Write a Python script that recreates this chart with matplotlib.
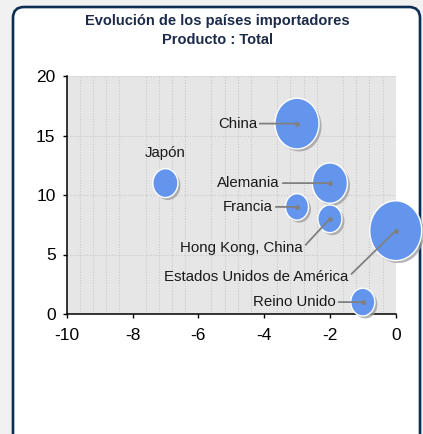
import numpy as np
import matplotlib
matplotlib.use("Agg")
import matplotlib.pyplot as plt
from matplotlib import transforms
from matplotlib.patches import FancyBboxPatch
from matplotlib.markers import MarkerStyle

# ---------------- data ----------------
countries = ["China", "Japón", "Alemania", "Francia", "Hong Kong, China",
             "Estados Unidos de América", "Reino Unido"]
x_vals = [-3, -7, -2, -3, -2, 0, -1]
y_vals = [16, 11, 11, 9, 8, 7, 1]
bubble_vals = [19.4, 6.3, 12.3, 5.3, 5.8, 27.0, 5.8]
x_ticks = [-10, -8, -6, -4, -2, 0]
y_ticks = [0, 5, 10, 15, 20]
title_line1 = "Evolución de los países importadores"
title_line2 = "Producto : Total"

# label offsets (pixels) relative to bubble centre
label_offsets = {
    "China": (-40, 0, "right"),
    "Japón": (0, 30, "center"),
    "Alemania": (-50, 0, "right"),
    "Francia": (-24, 0, "right"),
    "Hong Kong, China": (-27, -29, "right"),
    "Estados Unidos de América": (-47, -46, "right"),
    "Reino Unido": (-27, 0, "right"),
}

DPI = 100
W, H = 423, 434
fig = plt.figure(figsize=(W / DPI, H / DPI), dpi=DPI)
fig.patch.set_facecolor("#f1f1f1")

font = ["Liberation Sans", "DejaVu Sans"]

# rounded white panel
panel = FancyBboxPatch((13, -30), 407, 427 + 30,
                       boxstyle="round,pad=0,rounding_size=11",
                       linewidth=1.9, edgecolor="#0d2d55", facecolor="white",
                       transform=transforms.IdentityTransform(), zorder=-10)
fig.patches.append(panel)

ax = fig.add_axes([66.7 / W, (H - 314) / H, (395.7 - 66.7) / W, (314 - 76) / H])
ax.set_zorder(1)
ax.set_facecolor("#e6e6e6")
ax.set_xlim(-10, 0)
ax.set_ylim(0, 20)
ax.set_xticks(x_ticks)
ax.set_yticks(y_ticks)
ax.set_xticklabels([str(t) for t in x_ticks], family=font, fontsize=12.5)
ax.set_yticklabels([str(t) for t in y_ticks], family=font, fontsize=12.5)
ax.xaxis.set_minor_locator(matplotlib.ticker.MultipleLocator(0.4))
ax.tick_params(axis="both", which="major", direction="out", length=3,
               width=1, color="black")
ax.tick_params(axis="x", which="major", pad=7)
ax.tick_params(axis="y", which="major", pad=5)
ax.tick_params(axis="x", which="minor", length=0)
for s in ["top", "right"]:
    ax.spines[s].set_visible(False)
for s in ["left", "bottom"]:
    ax.spines[s].set_linewidth(1.1)
    ax.spines[s].set_color("black")
ax.grid(True, axis="x", which="minor", linestyle=(0, (1, 1.5)), color="#c9c9c9", lw=0.8)
ax.grid(True, axis="y", which="major", linestyle=(0, (1, 1.5)), color="#c9c9c9", lw=0.8)
ax.set_axisbelow(True)

# elliptical bubble marker (picture is slightly stretched vertically)
t = np.linspace(0, 2 * np.pi, 120)
aspect = 1.15
ell = MarkerStyle(np.column_stack([np.cos(t), aspect * np.sin(t)]))

widths_px = 10 * np.sqrt(np.array(bubble_vals))
sizes = (aspect * widths_px * 72 / DPI) ** 2

shadow = transforms.offset_copy(ax.transData, fig=fig, x=2.5, y=-2.5, units="dots")
ax.scatter(x_vals, y_vals, s=sizes, marker=ell, color="#9c9c9c", alpha=0.75,
           linewidths=0, transform=shadow, zorder=3, clip_on=False)
ax.scatter(x_vals, y_vals, s=sizes, marker=ell, color="#6495ed",
           edgecolors="white", linewidths=1.0, zorder=4, clip_on=False)

for name, xv, yv in zip(countries, x_vals, y_vals):
    dx, dy, ha = label_offsets[name]
    if ha == "center":
        ax.annotate(name, xy=(xv, yv), xytext=(dx, dy), textcoords="offset pixels",
                    ha="center", va="center", fontsize=10.8, family=font,
                    color="#1a1a1a", zorder=6, annotation_clip=False)
    else:
        ax.annotate(name, xy=(xv, yv), xytext=(dx, dy), textcoords="offset pixels",
                    ha="right", va="center", fontsize=10.8, family=font,
                    color="#1a1a1a", zorder=6, annotation_clip=False,
                    arrowprops=dict(arrowstyle="-", color="#808080", lw=1.3,
                                    shrinkA=0, shrinkB=0, relpos=(1, 0.5)))
        ax.scatter([xv], [yv], s=12, color="#808080", zorder=7, clip_on=False,
                   linewidths=0)

fig.text(217 / W, 1 - 21.5 / H, title_line1, ha="center", va="center",
         fontsize=10.5, fontweight="bold", family=font, color="#1c2b4a")
fig.text(217.5 / W, 1 - 40 / H, title_line2, ha="center", va="center",
         fontsize=10.5, fontweight="bold", family=font, color="#1c2b4a")

fig.savefig("out.png", dpi=DPI, facecolor=fig.get_facecolor())
